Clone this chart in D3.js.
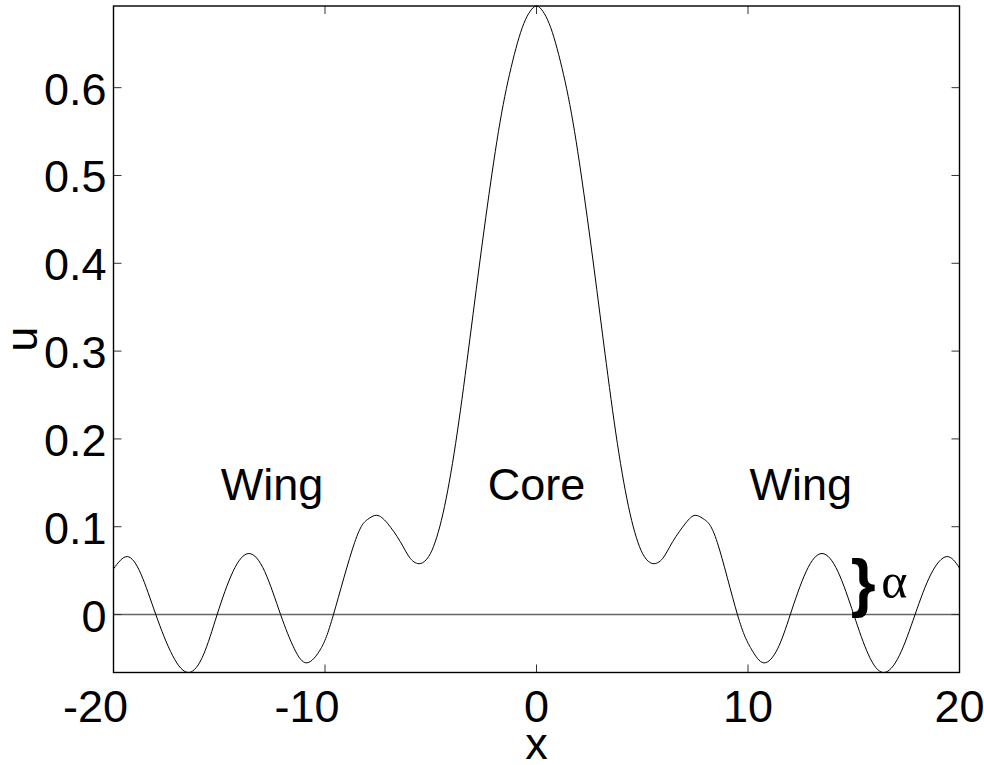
<!DOCTYPE html>
<html>
<head>
<meta charset="utf-8">
<script src="https://cdn.jsdelivr.net/npm/d3@7"></script>
<style>
  html, body { margin: 0; padding: 0; background: #fff; }
  svg { display: block; font-family: "Liberation Sans", Arial, sans-serif; }
</style>
</head>
<body>
<svg id="chart" width="984" height="765"></svg>
<script>
// --- DATA ---
const xValues = [
  -20.0, -19.35, -18.7, -18.0, -17.2, -16.44, -15.75, -15.1, -14.35, -13.6,
  -12.85, -12.1, -11.45, -10.85, -10.2, -9.6, -8.6, -8.0, -7.55, -7.05,
  -6.44, -5.97, -5.5, -5.1, -4.8, -4.5, -4.2, -3.9, -3.6, -3.3,
  -3.0, -2.7, -2.4, -2.1, -1.8, -1.5, -1.2, -0.9, -0.6, -0.3,
  0,
  0.3, 0.6, 0.9, 1.2, 1.5, 1.8, 2.1, 2.4, 2.7, 3.0,
  3.3, 3.6, 3.9, 4.2, 4.5, 4.8, 5.1, 5.5, 5.97, 6.44,
  7.05, 7.5, 7.95, 8.55, 9.5, 10.15, 10.75, 11.4, 12.0, 12.75,
  13.5, 14.25, 15.0, 15.7, 16.4, 17.15, 17.9, 18.65, 19.4, 20.0
];
const uValues = [
  0.052, 0.066, 0.046, 0.0, -0.047, -0.066, -0.046, 0.0, 0.049, 0.0695,
  0.049, 0.0, -0.039, -0.055, -0.039, 0.0, 0.082, 0.108, 0.113, 0.104,
  0.083, 0.064, 0.058, 0.066, 0.082, 0.107, 0.141, 0.183, 0.232, 0.286,
  0.342, 0.398, 0.452, 0.503, 0.550, 0.590, 0.623, 0.651, 0.673, 0.687,
  0.693,
  0.687, 0.673, 0.651, 0.623, 0.590, 0.550, 0.503, 0.452, 0.398, 0.342,
  0.286, 0.232, 0.183, 0.141, 0.107, 0.082, 0.066, 0.058, 0.064, 0.083,
  0.104, 0.113, 0.108, 0.082, 0.0, -0.039, -0.055, -0.039, 0.0, 0.049,
  0.0695, 0.049, 0.0, -0.046, -0.066, -0.047, 0.0, 0.046, 0.066, 0.053
];
const xTicks = [-20, -10, 0, 10, 20];
const yTicks = [0, 0.1, 0.2, 0.3, 0.4, 0.5, 0.6];
const regionLabels = ["Wing", "Core", "Wing"];
const regionX = [-12.5, 0, 12.5];
const regionY = 0.130;

const points = xValues.map((x, i) => ({ x, u: uValues[i] }));

const svg = d3.select("#chart");
const margin = { left: 113.5, right: 24.5, top: 6, bottom: 92.5 };
const width = 984, height = 765;
const x0 = margin.left, x1 = width - margin.right;
const y0 = height - margin.bottom, y1 = margin.top;

// axis tight, like the original
const x = d3.scaleLinear().domain([-20, 20]).range([x0, x1]);
const y = d3.scaleLinear().domain(d3.extent(uValues)).range([y0, y1]);

const fontSize = 45;

// --- ZERO LINE ---
svg.append("line")
  .attr("x1", x(-20)).attr("x2", x(20))
  .attr("y1", y(0)).attr("y2", y(0))
  .attr("stroke", "#666")
  .attr("stroke-width", 1.6);

// --- CURVE ---
const line = d3.line()
  .x(d => x(d.x))
  .y(d => y(d.u))
  .curve(d3.curveNatural);

svg.append("path")
  .datum(points)
  .attr("fill", "none")
  .attr("stroke", "#000")
  .attr("stroke-width", 1)
  .attr("d", line);

// --- TICKS (inside, on all four sides) ---
const tickLen = 8;
const ticks = svg.append("g").attr("stroke", "#333").attr("stroke-width", 1);
xTicks.forEach(t => {
  ticks.append("line").attr("x1", x(t)).attr("x2", x(t)).attr("y1", y0).attr("y2", y0 - tickLen);
  ticks.append("line").attr("x1", x(t)).attr("x2", x(t)).attr("y1", y1).attr("y2", y1 + tickLen);
});
yTicks.forEach(t => {
  ticks.append("line").attr("x1", x0).attr("x2", x0 + tickLen).attr("y1", y(t)).attr("y2", y(t));
  ticks.append("line").attr("x1", x1).attr("x2", x1 - tickLen).attr("y1", y(t)).attr("y2", y(t));
});

// --- BOX ---
svg.append("rect")
  .attr("x", x0).attr("y", y1)
  .attr("width", x1 - x0).attr("height", y0 - y1)
  .attr("fill", "none")
  .attr("stroke", "#000")
  .attr("stroke-width", 1.4);

// --- TICK LABELS ---
svg.append("g")
  .selectAll("text")
  .data(xTicks)
  .enter()
  .append("text")
  .attr("x", d => x(d) + (d < 0 ? -18 : 0))
  .attr("y", y0 + 49)
  .attr("text-anchor", "middle")
  .attr("font-size", fontSize)
  .text(d => String(d));

svg.append("g")
  .selectAll("text")
  .data(yTicks)
  .enter()
  .append("text")
  .attr("x", x0 - 7)
  .attr("y", d => y(d) + 17)
  .attr("text-anchor", "end")
  .attr("font-size", fontSize)
  .text(d => d === 0 ? "0" : d3.format(".1f")(d));

// --- AXIS TITLES ---
svg.append("text")
  .attr("x", x(0))
  .attr("y", 759)
  .attr("text-anchor", "middle")
  .attr("font-size", fontSize)
  .text("x");

svg.append("text")
  .attr("transform", `translate(37,${(y0 + y1) / 2}) rotate(-90)`)
  .attr("text-anchor", "middle")
  .attr("font-size", fontSize)
  .text("u");

// --- REGION LABELS ---
svg.append("g")
  .selectAll("text")
  .data(regionLabels)
  .enter()
  .append("text")
  .attr("x", (d, i) => x(regionX[i]))
  .attr("y", y(regionY))
  .attr("text-anchor", "middle")
  .attr("font-size", fontSize)
  .text(d => d);

// --- AMPLITUDE MARK ---
svg.append("text")
  .attr("x", x(15.45))
  .attr("y", y(0) - 10)
  .attr("text-anchor", "middle")
  .attr("font-size", 64)
  .attr("font-weight", "bold")
  .text("}");

svg.append("text")
  .attr("x", x(16.3))
  .attr("y", y(0.0186))
  .attr("font-size", 50)
  .attr("font-family", "'Liberation Serif', serif")
  .text("α");
</script>
</body>
</html>
